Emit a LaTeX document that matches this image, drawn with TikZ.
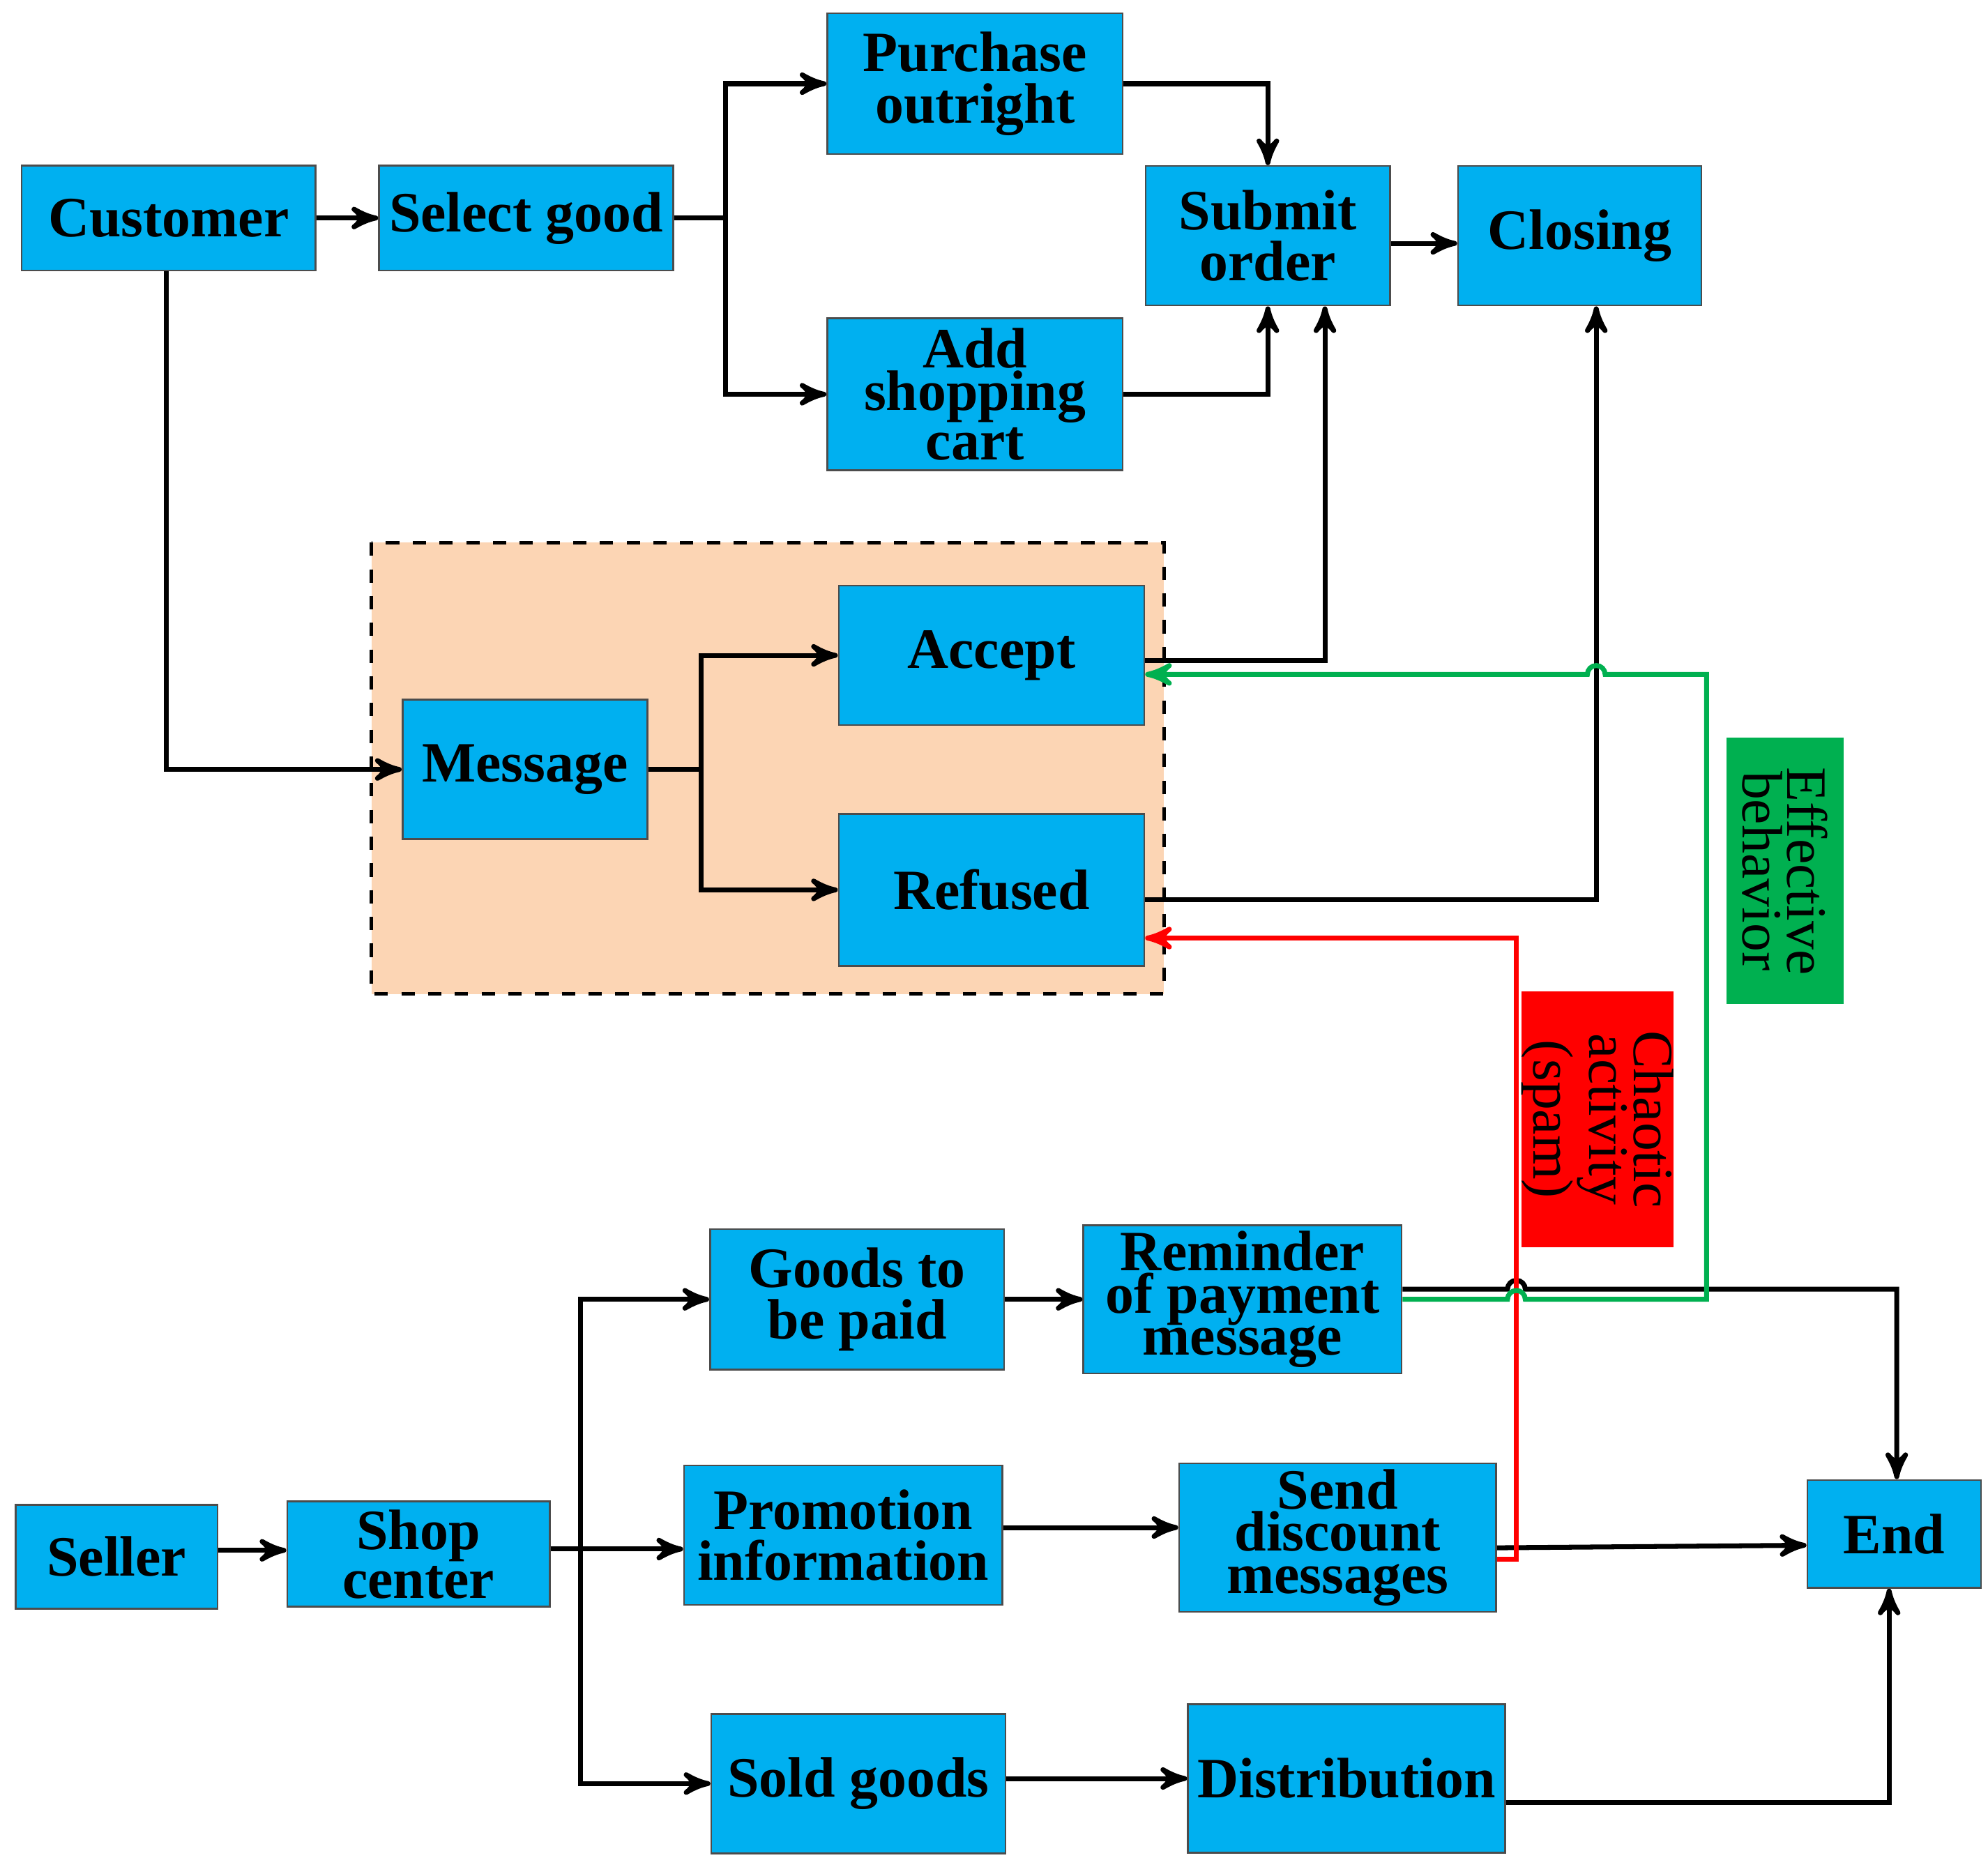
\documentclass[tikz,border=0pt]{standalone}
\usepackage{fontspec}
\setmainfont{Liberation Serif}
\usetikzlibrary{arrows}
\definecolor{boxblue}{RGB}{0,176,240}
\definecolor{peach}{RGB}{252,213,180}
\definecolor{effgreen}{RGB}{0,176,80}
\begin{document}
\begin{tikzpicture}[->,>=stealth',line width=1.1pt,
  main node/.style={rectangle,fill=boxblue,draw=black!70,thin,align=center,inner sep=0pt,
    font=\fontsize{12.8}{11.5}\selectfont\bfseries},
  tag/.style={rectangle,inner sep=0pt,align=center,rotate=-90,font=\fontsize{12.8}{10}\selectfont}]
  \useasboundingbox (0,0) rectangle (15.68,-14.78);

  \fill[peach] (2.93,-4.28) rectangle (9.18,-7.84);
  \draw[-,dashed,thick] (2.93,-4.28) rectangle (9.18,-7.84);

  \node[main node,minimum width=2.32cm,minimum height=0.83cm] (cust) at (1.33,-1.72) {Customer};
  \node[main node,minimum width=2.32cm,minimum height=0.83cm] (sel) at (4.15,-1.72) {Select good};
  \node[main node,minimum width=2.33cm,minimum height=1.11cm] (pur) at (7.69,-0.66) {Purchase\\outright};
  \node[main node,minimum width=2.33cm,minimum height=1.2cm,font=\fontsize{12.8}{9.5}\selectfont\bfseries] (cart) at (7.69,-3.11) {Add\\shopping\\cart};
  \node[main node,minimum width=1.93cm,minimum height=1.1cm] (sub) at (10.0,-1.86) {Submit\\order};
  \node[main node,minimum width=1.92cm,minimum height=1.1cm] (clo) at (12.46,-1.86) {Closing};
  \node[main node,minimum width=1.93cm,minimum height=1.1cm] (msg) at (4.14,-6.07) {Message};
  \node[main node,minimum width=2.41cm,minimum height=1.1cm] (acc) at (7.82,-5.17) {Accept};
  \node[main node,minimum width=2.41cm,minimum height=1.2cm] (ref) at (7.82,-7.02) {Refused};
  \node[tag,fill=effgreen,minimum width=2.1cm,minimum height=0.92cm] (eff) at (14.08,-6.87) {Effective\\behavior};
  \node[tag,fill=red,minimum width=2.02cm,minimum height=1.12cm] (cha) at (12.6,-8.83) {Chaotic\\activity\\(spam)};
  \node[main node,minimum width=2.32cm,minimum height=1.11cm] (goods) at (6.76,-10.25) {Goods to\\be paid};
  \node[main node,minimum width=2.51cm,minimum height=1.17cm,font=\fontsize{12.8}{9.5}\selectfont\bfseries] (rem) at (9.80,-10.25) {Reminder\\of payment\\message};
  \node[main node,minimum width=1.59cm,minimum height=0.82cm] (sell) at (0.92,-12.28) {Seller};
  \node[main node,minimum width=2.07cm,minimum height=0.83cm,font=\fontsize{12.8}{9.5}\selectfont\bfseries] (shop) at (3.30,-12.26) {Shop\\center};
  \node[main node,minimum width=2.51cm,minimum height=1.1cm] (promo) at (6.65,-12.11) {Promotion\\information};
  \node[main node,minimum width=2.5cm,minimum height=1.17cm,font=\fontsize{12.8}{9.5}\selectfont\bfseries] (disc) at (10.55,-12.13) {Send\\discount\\messages};
  \node[main node,minimum width=1.37cm,minimum height=0.85cm] (end) at (14.94,-12.10) {End};
  \node[main node,minimum width=2.32cm,minimum height=1.1cm] (sold) at (6.77,-14.07) {Sold goods};
  \node[main node,minimum width=2.5cm,minimum height=1.17cm] (dist) at (10.62,-14.03) {Distribution};

  % customer side
  \draw (cust) -- (sel);
  \draw (sel.east) -- (5.72,-1.72) |- (pur.west);
  \draw (sel.east) -- (5.72,-1.72) |- (cart.west);
  \draw (pur.east) -| (sub.north);
  \draw (cart.east) -| (sub.south);
  \draw (sub.east |- 0,-1.92) -- (clo.west |- 0,-1.92);
  \draw (cust.south -| 1.31,0) |- (msg.west);
  \draw (msg.east) -- (5.53,-6.07) |- (acc.west);
  \draw (msg.east) -- (5.53,-6.07) |- (ref.west);
  \draw (acc.east |- 0,-5.21) -| (sub.south -| 10.45,0);
  \draw (ref.east |- 0,-7.10) -| (clo.south -| 12.59,0);
  % seller side
  \draw (sell.east |- 0,-12.23) -- (shop.west |- 0,-12.23);
  \draw (shop.east |- 0,-12.22) -- (4.58,-12.22) |- (goods.west);
  \draw (shop.east |- 0,-12.22) -- (4.58,-12.22) |- (sold.west);
  \draw (shop.east |- 0,-12.22) -- (promo.west |- 0,-12.22);
  \draw (goods) -- (rem);
  \draw (promo.east |- 0,-12.05) -- (disc.west |- 0,-12.05);
  \draw (sold.east |- 0,-14.03) -- (dist.west);
  \draw (disc.east |- 0,-12.21) -- (end.west |- 0,-12.19);
  \draw (dist.east |- 0,-14.22) -| (end.south -| 14.90,0);
  \draw (rem.east |- 0,-10.17) -- (11.89,-10.17) arc (180:0:0.07) -| (end.north -| 14.96,0);
  % spam and effective paths
  \draw[red] (disc.east |- 0,-12.30) -| (11.96,-7.40) -- (ref.east |- 0,-7.40);
  \draw[effgreen] (rem.east |- 0,-10.25) -- (11.89,-10.25) arc (180:0:0.07) -| (13.46,-5.32)
    -- (12.66,-5.32) arc (0:180:0.07) -- (acc.east |- 0,-5.32);
\end{tikzpicture}
\end{document}
